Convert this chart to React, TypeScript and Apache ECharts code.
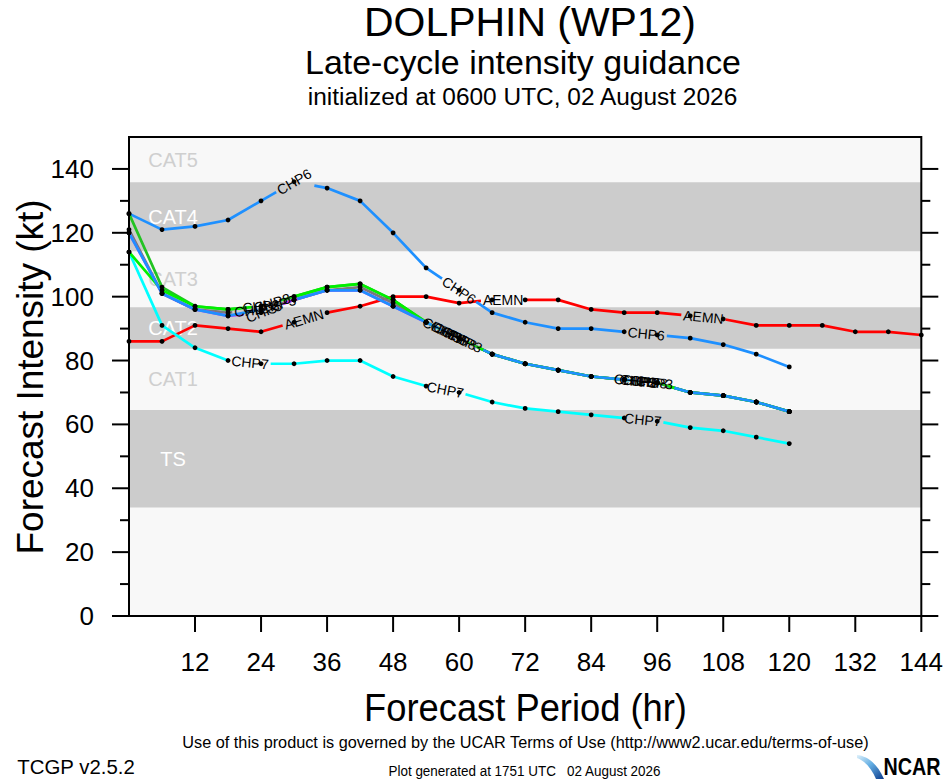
import React, { useEffect, useRef } from "react";
import * as echarts from "echarts";

// ---------------- data ----------------
const HOURS = [0, 6, 12, 18, 24, 30, 36, 42, 48, 54, 60, 66, 72, 78, 84, 90, 96, 102, 108, 114, 120, 126, 132, 138, 144];

const AEMN = [86, 86, 91, 90, 89, 92, 95, 97, 100, 100, 98, 99, 99, 99, 96, 95, 95, 94, 93, 91, 91, 91, 89, 89, 88];
const CHP6 = [126, 121, 122, 124, 130, 136, 134, 130, 120, 109, 102, 95, 92, 90, 90, 89, 88, 87, 85, 82, 78];
const CHP7 = [114, 91, 84, 80, 79, 79, 80, 80, 75, 72, 70, 67, 65, 64, 63, 62, 61, 59, 58, 56, 54];
const CHIPS = [121, 101, 96, 95, 96, 99, 102, 103, 98, 92, 87, 82, 79, 77, 75, 74, 73, 70, 69, 67, 64];
const CHP5 = [120, 101, 96, 94, 95, 99, 102, 102, 97, 92, 87, 82, 79, 77, 75, 74, 73, 70, 69, 67, 64];
const CHP2 = [126, 103, 97, 96, 97, 100, 103, 104, 99, 92, 87, 82, 79, 77, 75, 74, 73, 70, 69, 67, 64];
const CHP8 = [114, 102, 97, 96, 97, 100, 103, 104, 99, 92, 87, 82, 79, 77, 75, 74, 73, 70, 69, 67, 64];
const CHP3 = [120, 101, 96, 94, 96, 99, 102, 102, 97, 92, 87, 82, 79, 77, 75, 74, 73, 70, 69, 67, 64];

const BAND_NAMES = ["TS", "CAT1", "CAT2", "CAT3", "CAT4", "CAT5"];
const BAND_LOW = [34, 64.5, 83.7, 96.7, 114.2, 135.8];
const BAND_HIGH = [64.5, 83.7, 96.7, 114.2, 135.8, 150];
const BAND_SHADED = [true, false, true, false, true, false];

const Y_MAJOR = [0, 20, 40, 60, 80, 100, 120, 140];
const Y_MINOR = [10, 30, 50, 70, 90, 110, 130];
const X_TICKS = [12, 24, 36, 48, 60, 72, 84, 96, 108, 120, 132, 144];

// ---------------- styles ----------------
const MODELS = [
  { name: "AEMN", values: AEMN, color: "#ff0000", labelAt: [31.8, 68, 104.4] },
  { name: "CHP7", values: CHP7, color: "#00ffff", labelAt: [22, 57.5, 93.4] },
  { name: "CHP6", values: CHP6, color: "#1e90ff", labelAt: [30, 60, 94] },
  { name: "CHIPS", values: CHIPS, color: "#7a7a7a", labelAt: [23, 57, 92] },
  { name: "CHP5", values: CHP5, color: "#c030ff", labelAt: [24.5, 58.5, 93] },
  { name: "CHP2", values: CHP2, color: "#22c322", labelAt: [24, 58, 92.5] },
  { name: "CHP8", values: CHP8, color: "#00f000", labelAt: [26, 60, 94.5] },
  { name: "CHP3", values: CHP3, color: "#1e90ff", labelAt: [27, 61, 95.5] },
];

const FONT = '"Liberation Sans", Arial, Helvetica, sans-serif';
const X_MAX = 144;
const Y_MAX = 150;

let measureCtx: CanvasRenderingContext2D | null = null;
function measure(text: string, font: string): number {
  if (!measureCtx) measureCtx = document.createElement("canvas").getContext("2d");
  if (!measureCtx) return text.length * 10;
  measureCtx.font = font;
  return measureCtx.measureText(text).width;
}

let shapeRegistered = false;
function registerLogo() {
  if (shapeRegistered) return;
  shapeRegistered = true;
  const d = "M0 0 C10 1 20 8 27 24 L19 24 C15 14 8 6 0 3 Z";
  echarts.graphic.registerShape("ncarSwoosh", echarts.graphic.extendPath(d, {}) as any);
}

function fitText(text: string, cx: number, cy: number, size: number, targetW: number, extra: any = {}) {
  const font = `${extra.bold ? "bold " : ""}${size}px ${FONT}`;
  const w = measure(text, font);
  return {
    type: "text",
    x: cx,
    y: cy,
    rotation: extra.rotation || 0,
    scaleX: targetW / w,
    scaleY: extra.scaleY || 1,
    z: 100,
    silent: true,
    style: {
      text,
      font,
      fill: extra.color || "#000",
      textAlign: "center",
      textVerticalAlign: "middle",
      align: "center",
      verticalAlign: "middle",
    },
  };
}

function modelSeries(m: any) {
  return {
    type: "custom",
    name: m.name,
    xAxisIndex: 0,
    yAxisIndex: 0,
    z: 3,
    clip: false,
    silent: true,
    data: [[0, 0]],
    encode: { x: 0, y: 1 },
    renderItem: (_params: any, api: any) => {
      const vals: number[] = m.values;
      const pts = vals.map((v, i) => api.coord([HOURS[i], v]) as number[]);
      const n = pts.length;
      const cum = [0];
      for (let i = 1; i < n; i++) {
        cum.push(cum[i - 1] + Math.hypot(pts[i][0] - pts[i - 1][0], pts[i][1] - pts[i - 1][1]));
      }
      const total = cum[n - 1];
      const pointAt = (s: number) => {
        for (let i = 0; i < n - 1; i++) {
          if (s <= cum[i + 1] || i === n - 2) {
            const len = cum[i + 1] - cum[i] || 1;
            const t = Math.max(0, Math.min(1, (s - cum[i]) / len));
            return [pts[i][0] + t * (pts[i + 1][0] - pts[i][0]), pts[i][1] + t * (pts[i + 1][1] - pts[i][1])];
          }
        }
        return pts[n - 1];
      };
      const font = `14px ${FONT}`;
      const tw = measure(m.name, font);
      const gaps: number[][] = [];
      const texts: any[] = [];
      (m.labelAt as number[]).forEach((h) => {
        let k = 0;
        while (k < n - 2 && HOURS[k + 1] < h) k++;
        const t = (h - HOURS[k]) / (HOURS[k + 1] - HOURS[k]);
        const a = pts[k];
        const b = pts[k + 1];
        const cx = a[0] + t * (b[0] - a[0]);
        const cy = a[1] + t * (b[1] - a[1]);
        const sc = cum[k] + t * (cum[k + 1] - cum[k]);
        gaps.push([sc - tw / 2 - 2, sc + tw / 2 + 2]);
        texts.push({
          type: "text",
          x: cx,
          y: cy,
          rotation: Math.atan2(-(b[1] - a[1]), b[0] - a[0]),
          z2: 50,
          style: {
            text: m.name,
            font,
            fill: "#000",
            textAlign: "center",
            textVerticalAlign: "middle",
            align: "center",
            verticalAlign: "middle",
          },
        });
      });
      gaps.sort((p, q) => p[0] - q[0]);
      const pieces: number[][] = [];
      let cur = 0;
      gaps.forEach((g) => {
        if (g[0] > cur) pieces.push([cur, g[0]]);
        cur = Math.max(cur, g[1]);
      });
      if (cur < total) pieces.push([cur, total]);
      const lines = pieces.map(([s0, s1]) => {
        const pp = [pointAt(s0)];
        for (let i = 0; i < n; i++) if (cum[i] > s0 && cum[i] < s1) pp.push(pts[i]);
        pp.push(pointAt(s1));
        return {
          type: "polyline",
          z2: 10,
          shape: { points: pp },
          style: { stroke: m.color, lineWidth: 2.7, fill: null, lineJoin: "round" },
        };
      });
      const dots = pts.map((p) => ({
        type: "circle",
        z2: 20,
        shape: { cx: p[0], cy: p[1], r: 2.4 },
        style: { fill: "#000" },
      }));
      return { type: "group", children: [...lines, ...dots, ...texts] };
    },
  };
}

const bandSeries = {
  type: "custom",
  name: "bands",
  xAxisIndex: 0,
  yAxisIndex: 0,
  z: 1,
  silent: true,
  clip: false,
  data: BAND_NAMES.map((_n, i) => [i, BAND_LOW[i]]),
  encode: { x: 0, y: 1 },
  renderItem: (params: any, api: any) => {
    const i = params.dataIndex;
    const tl = api.coord([0, BAND_HIGH[i]]);
    const br = api.coord([X_MAX, BAND_LOW[i]]);
    const mid = api.coord([8, (BAND_LOW[i] + BAND_HIGH[i]) / 2]);
    const children: any[] = [];
    if (BAND_SHADED[i]) {
      children.push({
        type: "rect",
        shape: { x: tl[0], y: tl[1], width: br[0] - tl[0], height: br[1] - tl[1] },
        style: { fill: "#cccccc" },
      });
    }
    children.push({
      type: "text",
      x: mid[0],
      y: mid[1],
      z2: 5,
      style: {
        text: BAND_NAMES[i],
        font: `20px ${FONT}`,
        fill: BAND_SHADED[i] ? "#ffffff" : "#cfcfcf",
        textAlign: "center",
        textVerticalAlign: "middle",
        align: "center",
        verticalAlign: "middle",
      },
    });
    return { type: "group", children };
  },
};

const frameSeries = {
  type: "custom",
  name: "frame",
  xAxisIndex: 0,
  yAxisIndex: 0,
  z: 10,
  silent: true,
  clip: false,
  data: [[0, 0]],
  encode: { x: 0, y: 1 },
  renderItem: (_params: any, api: any) => {
    const tl = api.coord([0, Y_MAX]);
    const br = api.coord([X_MAX, 0]);
    const ls = { stroke: "#000", lineWidth: 2 };
    const children: any[] = [
      {
        type: "rect",
        shape: { x: tl[0], y: tl[1], width: br[0] - tl[0], height: br[1] - tl[1] },
        style: { fill: "none", stroke: "#000", lineWidth: 2 },
      },
    ];
    Y_MAJOR.forEach((v) => {
      const p = api.coord([0, v]);
      const q = api.coord([X_MAX, v]);
      children.push({ type: "line", shape: { x1: p[0] - 17, y1: p[1], x2: p[0], y2: p[1] }, style: ls });
      children.push({ type: "line", shape: { x1: q[0], y1: q[1], x2: q[0] + 17, y2: q[1] }, style: ls });
    });
    Y_MINOR.forEach((v) => {
      const p = api.coord([0, v]);
      const q = api.coord([X_MAX, v]);
      children.push({ type: "line", shape: { x1: p[0] - 9, y1: p[1], x2: p[0], y2: p[1] }, style: ls });
      children.push({ type: "line", shape: { x1: q[0], y1: q[1], x2: q[0] + 9, y2: q[1] }, style: ls });
    });
    X_TICKS.forEach((h) => {
      const p = api.coord([h, 0]);
      children.push({ type: "line", shape: { x1: p[0], y1: p[1], x2: p[0], y2: p[1] + 16 }, style: ls });
    });
    return { type: "group", children };
  },
};

function buildOption() {
  registerLogo();
  const logoGradient = new echarts.graphic.LinearGradient(0, 0, 1, 1, [
    { offset: 0, color: "#dff1fb" },
    { offset: 0.45, color: "#63aee3" },
    { offset: 1, color: "#0a3a8c" },
  ]);
  return {
    animation: false,
    backgroundColor: "#ffffff",
    grid: {
      left: 129,
      top: 137,
      width: 793,
      height: 479,
      show: true,
      backgroundColor: "#f8f8f8",
      borderWidth: 0,
    },
    xAxis: {
      type: "value",
      min: 0,
      max: X_MAX,
      interval: 12,
      axisLine: { show: false },
      axisTick: { show: false },
      splitLine: { show: false },
      axisLabel: {
        formatter: (v: number) => (v === 0 ? "" : String(v)),
        fontSize: 26,
        fontFamily: FONT,
        color: "#000",
        margin: 33,
      },
    },
    yAxis: {
      type: "value",
      min: 0,
      max: Y_MAX,
      interval: 20,
      axisLine: { show: false },
      axisTick: { show: false },
      splitLine: { show: false },
      axisLabel: {
        formatter: (v: number) => (v > 140 ? "" : String(v)),
        fontSize: 26,
        fontFamily: FONT,
        color: "#000",
        margin: 35,
      },
    },
    series: [bandSeries, ...MODELS.map(modelSeries), frameSeries],
    graphic: [
      fitText("DOLPHIN (WP12)", 530, 22, 40, 332),
      fitText("Late-cycle intensity guidance", 523, 62, 34, 436),
      fitText("initialized at 0600 UTC, 02 August 2026", 522.5, 97, 24, 431),
      fitText("Forecast Intensity (kt)", 30, 377, 37, 355, { rotation: Math.PI / 2 }),
      fitText("Forecast Period (hr)", 525.5, 708, 38, 323),
      fitText("Use of this product is governed by the UCAR Terms of Use (http://www2.ucar.edu/terms-of-use)", 525.5, 742, 17, 687),
      fitText("TCGP v2.5.2", 76, 766, 21, 118),
      fitText("Plot generated at 1751 UTC   02 August 2026", 524.5, 771, 15, 273),
      {
        type: "ncarSwoosh",
        x: 857,
        y: 755,
        scaleX: 1,
        scaleY: 1,
        z: 100,
        silent: true,
        style: { fill: logoGradient },
      },
      fitText("NCAR", 912, 767, 22, 57, { bold: true, scaleY: 1.1 }),
    ],
  };
}

export default function App() {
  const ref = useRef<HTMLDivElement>(null);
  useEffect(() => {
    if (!ref.current) return;
    const chart = echarts.init(ref.current, null, { renderer: "svg" });
    chart.setOption(buildOption() as any);
    return () => {
      chart.dispose();
    };
  }, []);
  return (
    <div
      ref={ref}
      style={{ position: "absolute", left: 0, top: 0, width: 946, height: 780, background: "#fff" }}
    />
  );
}
